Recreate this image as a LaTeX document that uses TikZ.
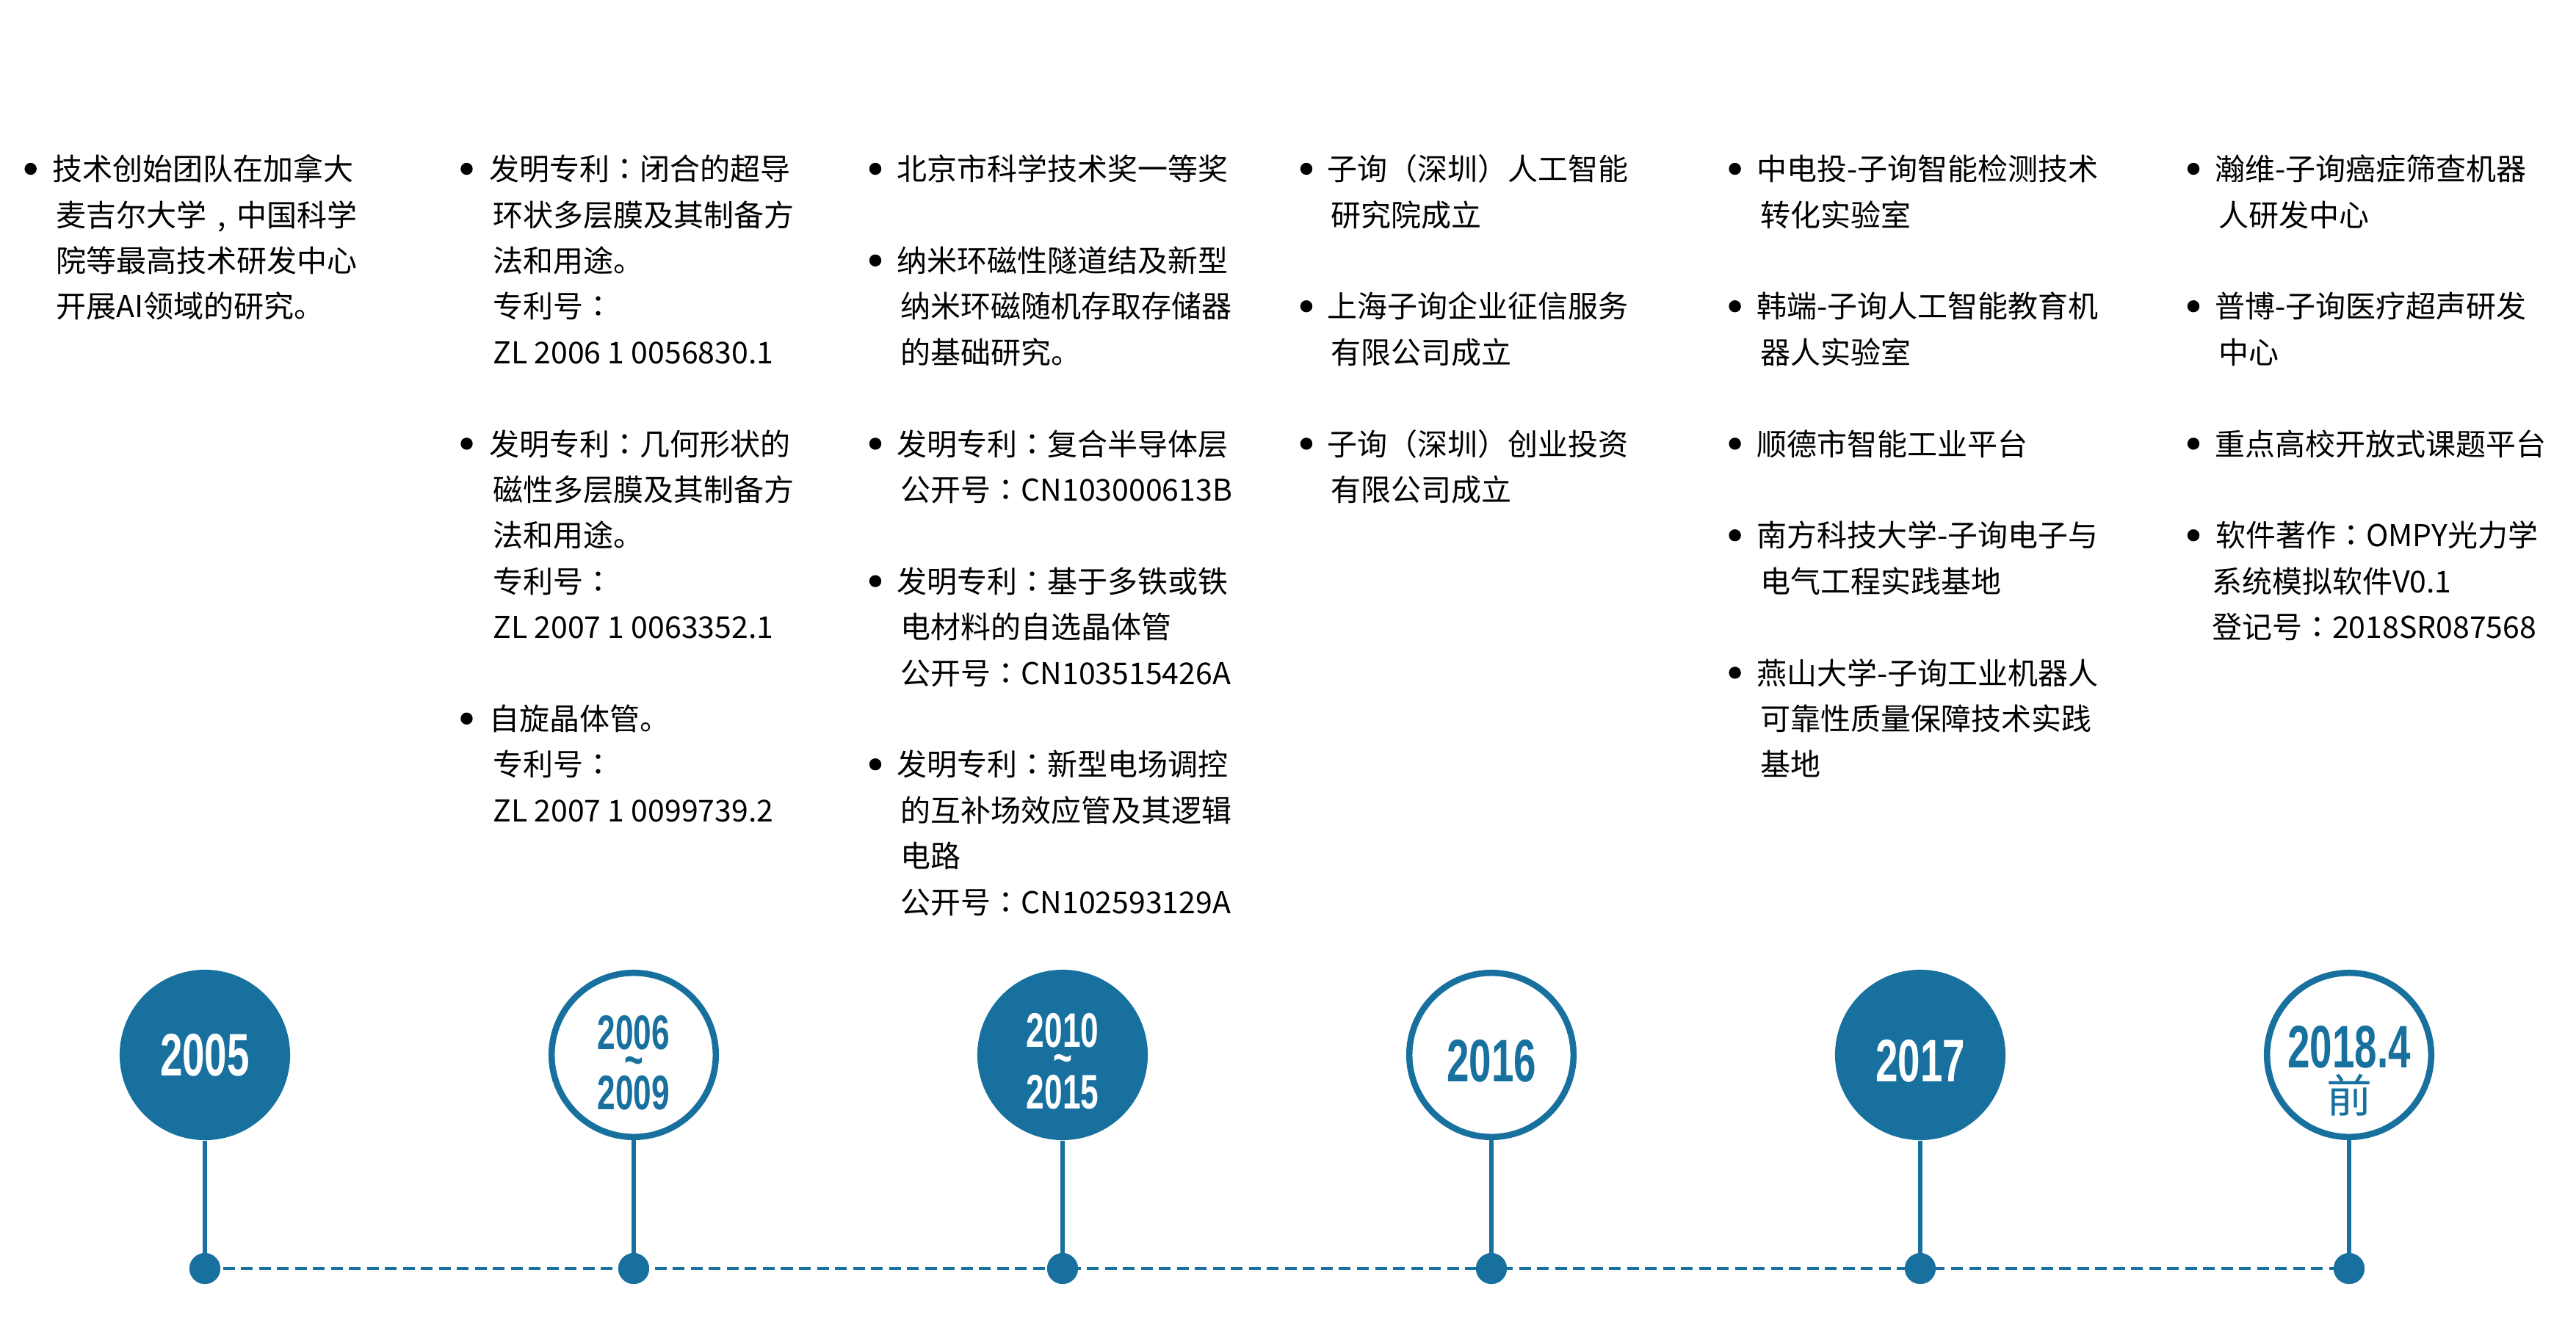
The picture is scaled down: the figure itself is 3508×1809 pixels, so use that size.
\documentclass[tikz,border=0pt]{standalone}
\usepackage{fontspec}
\setmainfont{Noto Sans CJK SC}
\newfontfamily\tlpunct{Noto Sans CJK TC}
\newfontfamily\yearfont{Liberation Sans}[FakeStretch=0.67]
\definecolor{tlblue}{RGB}{23,112,158}
\newcommand\tlci{\hspace*{0.055cm}}
\newcommand\tlcol{{\tlpunct ：}}
\newcommand\tlcom{\makebox[1em][c]{,}}
\newcommand\tltext[1]{\parbox[t]{5cm}{\raggedright\fontsize{11.66pt}{17.75pt}\selectfont #1}}
\newcommand\tlbul[2]{\fill ({#1},{230+62.4*(#2)}) circle (0.082cm);}
\newcommand\tlitem[4]{\node[itembox] (#1) at ({#2},{245.6+62.4*(#3)}) {\tltext{#4}};}
\tikzset{
  yearfill/.style={circle, fill=tlblue, minimum size=2.32cm, inner sep=0pt},
  yearring/.style={circle, draw=tlblue, fill=white, line width=0.085cm, minimum size=2.235cm, inner sep=0pt},
  tdot/.style={circle, fill=tlblue, minimum size=0.42cm, inner sep=0pt},
  stem/.style={draw=tlblue, line width=0.063cm},
  dashline/.style={draw=tlblue, line width=0.045cm, dash pattern=on 0.16cm off 0.085cm},
  bigyear/.style={font=\yearfont\bfseries\fontsize{23.25pt}{23.25pt}\selectfont, inner sep=0pt},
  smallyear/.style={font=\yearfont\bfseries\fontsize{18.8pt}{18.8pt}\selectfont, inner sep=0pt},
  itembox/.style={anchor=base west, inner sep=0pt, outer sep=0pt},
}
\begin{document}
\begin{tikzpicture}[x=0.01cm,y=-0.01cm]
\path[fill=white,use as bounding box] (0,0) rectangle (3508,1809);

% timeline dots
\node[tdot] (d1) at (279,1728) {};
\node[tdot] (d2) at (863,1728) {};
\node[tdot] (d3) at (1447,1728) {};
\node[tdot] (d4) at (2031,1728) {};
\node[tdot] (d5) at (2615,1728) {};
\node[tdot] (d6) at (3199,1728) {};
\path[dashline] (d1.center) -- (d6.center);

% year circles
\node[yearfill] (c1) at (279,1437) {};
\node[yearring] (c2) at (863,1437) {};
\node[yearfill] (c3) at (1447,1437) {};
\node[yearring] (c4) at (2031,1437) {};
\node[yearfill] (c5) at (2615,1437) {};
\node[yearring] (c6) at (3199,1437) {};

\foreach \i in {1,...,6}{ \path[stem] (c\i.south) -- (d\i.center); }
\foreach \i in {1,...,6}{ \node[tdot] at (d\i) {}; }

% year labels
\node[bigyear, text=white] (y1) at (279,1437.5) {2005};
\node[smallyear, text=tlblue] (y2a) at (863,1406.5) {2006};
\node[smallyear, text=tlblue, anchor=base] (y2t) at (863,1466) {\textasciitilde};
\node[smallyear, text=tlblue] (y2b) at (863,1489) {2009};
\node[smallyear, text=white] (y3a) at (1447,1404) {2010};
\node[smallyear, text=white, anchor=base] (y3t) at (1447,1463) {\textasciitilde};
\node[smallyear, text=white] (y3b) at (1447,1487.5) {2015};
\node[bigyear, text=tlblue] (y4) at (2031,1445.5) {2016};
\node[bigyear, text=white] (y5) at (2615,1445.5) {2017};
\node[bigyear, text=tlblue] (y6) at (3199,1426.5) {2018.4};
\node[inner sep=0pt, text=tlblue, font=\fontsize{17.6pt}{17.6pt}\selectfont] (y6b) at (3199,1492) {前};

% column 1
\tlbul{41.7}{0}
\tlitem{t1a}{71}{0}{技术创始团队在加拿大\\\tlci 麦吉尔大学\tlcom 中国科学\\\tlci 院等最高技术研发中心\\\tlci 开展AI领域的研究。}

% column 2
\tlbul{635.5}{0}
\tlitem{t2a}{666}{0}{发明专利\tlcol 闭合的超导\\\tlci 环状多层膜及其制备方\\\tlci 法和用途。\\\tlci 专利号\tlcol\\\tlci ZL 2006 1 0056830.1}
\tlbul{635.5}{6}
\tlitem{t2b}{666}{6}{发明专利\tlcol 几何形状的\\\tlci 磁性多层膜及其制备方\\\tlci 法和用途。\\\tlci 专利号\tlcol\\\tlci ZL 2007 1 0063352.1}
\tlbul{635.5}{12}
\tlitem{t2c}{666}{12}{自旋晶体管。\\\tlci 专利号\tlcol\\\tlci ZL 2007 1 0099739.2}

% column 3
\tlbul{1192}{0}
\tlitem{t3a}{1221}{0}{北京市科学技术奖一等奖}
\tlbul{1192}{2}
\tlitem{t3b}{1221}{2}{纳米环磁性隧道结及新型\\\tlci 纳米环磁随机存取存储器\\\tlci 的基础研究。}
\tlbul{1192}{6}
\tlitem{t3c}{1221}{6}{发明专利\tlcol 复合半导体层\\\tlci 公开号\tlcol CN103000613B}
\tlbul{1192}{9}
\tlitem{t3d}{1221}{9}{发明专利\tlcol 基于多铁或铁\\\tlci 电材料的自选晶体管\\\tlci 公开号\tlcol CN103515426A}
\tlbul{1192}{13}
\tlitem{t3e}{1221}{13}{发明专利\tlcol 新型电场调控\\\tlci 的互补场效应管及其逻辑\\\tlci 电路\\\tlci 公开号\tlcol CN102593129A}

% column 4
\tlbul{1779}{0}
\tlitem{t4a}{1807}{0}{子询（深圳）人工智能\\\tlci 研究院成立}
\tlbul{1779}{3}
\tlitem{t4b}{1807}{3}{上海子询企业征信服务\\\tlci 有限公司成立}
\tlbul{1779}{6}
\tlitem{t4c}{1807}{6}{子询（深圳）创业投资\\\tlci 有限公司成立}

% column 5
\tlbul{2362.6}{0}
\tlitem{t5a}{2392}{0}{中电投-子询智能检测技术\\\tlci 转化实验室}
\tlbul{2362.6}{3}
\tlitem{t5b}{2392}{3}{韩端-子询人工智能教育机\\\tlci 器人实验室}
\tlbul{2362.6}{6}
\tlitem{t5c}{2392}{6}{顺德市智能工业平台}
\tlbul{2362.6}{8}
\tlitem{t5d}{2392}{8}{南方科技大学-子询电子与\\\tlci 电气工程实践基地}
\tlbul{2362.6}{11}
\tlitem{t5e}{2392}{11}{燕山大学-子询工业机器人\\\tlci 可靠性质量保障技术实践\\\tlci 基地}

% column 6
\tlbul{2987}{0}
\tlitem{t6a}{3016}{0}{瀚维-子询癌症筛查机器\\\tlci 人研发中心}
\tlbul{2987}{3}
\tlitem{t6b}{3016}{3}{普博-子询医疗超声研发\\\tlci 中心}
\tlbul{2987}{6}
\tlitem{t6c}{3016}{6}{重点高校开放式课题平台}
\tlbul{2987}{8}
\tlitem{t6d}{3012}{8}{\hspace*{0.05cm}软件著作\tlcol OMPY光力学\\系统模拟软件V0.1\\登记号\tlcol 2018SR087568}
\end{tikzpicture}
\end{document}
